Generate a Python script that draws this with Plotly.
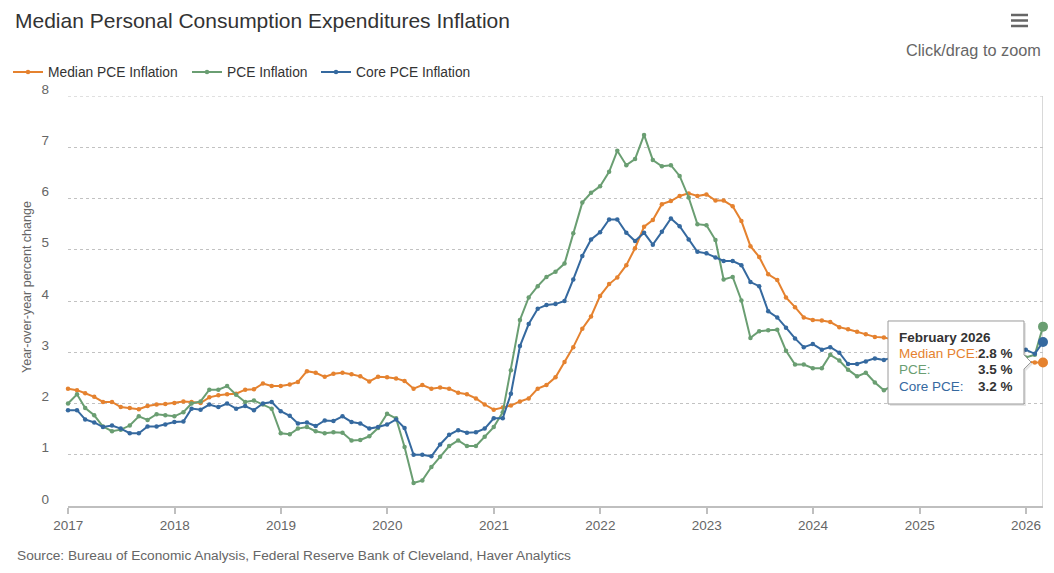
import pandas as pd
import plotly.graph_objects as go

# ---------------- data ----------------
months = pd.date_range('2016-12-01', periods=111, freq='MS') + pd.offsets.MonthEnd(0)

median_pce = [
    2.29, 2.26, 2.20, 2.13, 2.03, 2.03, 1.93, 1.91, 1.89, 1.95,
    1.98, 1.99, 2.01, 2.04, 2.03, 2.01, 2.12, 2.16, 2.18, 2.19,
    2.27, 2.28, 2.39, 2.34, 2.34, 2.37, 2.42, 2.63, 2.60, 2.52,
    2.58, 2.60, 2.57, 2.53, 2.43, 2.52, 2.51, 2.49, 2.44, 2.29,
    2.36, 2.29, 2.31, 2.29, 2.21, 2.18, 2.10, 1.98, 1.88, 1.92,
    1.96, 2.04, 2.10, 2.29, 2.36, 2.51, 2.81, 3.10, 3.46, 3.70,
    4.10, 4.33, 4.46, 4.70, 5.03, 5.45, 5.58, 5.89, 5.95, 6.05,
    6.10, 6.05, 6.08, 5.96, 5.96, 5.85, 5.56, 5.07, 4.86, 4.52,
    4.41, 4.07, 3.88, 3.68, 3.63, 3.62, 3.59, 3.49, 3.45, 3.40,
    3.35, 3.30, 3.29, 3.25, 3.20, 3.15, 3.10, 3.05, 3.00, 3.00,
    2.95, 2.95, 2.90, 2.90, 2.85, 2.85, 2.80, 2.80, 2.82, 2.80, 2.80,
]

pce = [
    2.00, 2.18, 1.91, 1.77, 1.55, 1.46, 1.49, 1.57, 1.75, 1.68,
    1.79, 1.77, 1.75, 1.83, 2.00, 2.04, 2.27, 2.27, 2.34, 2.17,
    2.03, 2.06, 1.98, 1.90, 1.42, 1.40, 1.51, 1.54, 1.46, 1.42,
    1.44, 1.43, 1.28, 1.29, 1.36, 1.52, 1.80, 1.71, 1.15, 0.45,
    0.50, 0.76, 0.96, 1.17, 1.28, 1.17, 1.17, 1.35, 1.54, 1.83,
    2.65, 3.63, 4.07, 4.29, 4.47, 4.57, 4.73, 5.32, 5.92, 6.11,
    6.24, 6.52, 6.93, 6.65, 6.77, 7.24, 6.75, 6.63, 6.65, 6.44,
    6.02, 5.50, 5.48, 5.19, 4.42, 4.47, 4.01, 3.28, 3.41, 3.43,
    3.44, 3.03, 2.76, 2.76, 2.69, 2.69, 2.95, 2.84, 2.66, 2.53,
    2.60, 2.41, 2.26, 2.35, 2.45, 2.60, 2.55, 2.40, 2.30, 2.40,
    2.60, 2.70, 2.75, 2.75, 2.80, 2.90, 2.85, 2.90, 2.90, 2.95, 3.50,
]

core_pce = [
    1.87, 1.87, 1.69, 1.63, 1.54, 1.57, 1.51, 1.42, 1.42, 1.55,
    1.55, 1.59, 1.64, 1.65, 1.90, 1.88, 1.98, 1.93, 2.00, 1.90,
    1.95, 1.87, 2.00, 2.03, 1.85, 1.76, 1.61, 1.63, 1.56, 1.67,
    1.66, 1.75, 1.64, 1.61, 1.51, 1.54, 1.59, 1.69, 1.52, 1.00,
    1.00, 0.97, 1.20, 1.39, 1.48, 1.43, 1.44, 1.51, 1.71, 1.71,
    2.19, 3.12, 3.55, 3.85, 3.92, 3.94, 4.00, 4.42, 4.88, 5.20,
    5.34, 5.59, 5.59, 5.33, 5.17, 5.33, 5.10, 5.35, 5.61, 5.46,
    5.20, 4.96, 4.93, 4.85, 4.78, 4.78, 4.70, 4.37, 4.29, 3.80,
    3.68, 3.48, 3.27, 3.10, 3.16, 3.05, 3.10, 2.99, 2.77, 2.77,
    2.82, 2.88, 2.85, 2.90, 2.95, 2.90, 2.85, 2.80, 2.75, 2.75,
    2.80, 2.85, 2.90, 2.90, 2.95, 2.90, 2.95, 3.00, 3.05, 2.97, 3.20,
]

series_names = ['Median PCE Inflation', 'PCE Inflation', 'Core PCE Inflation']
tooltip_labels = ['Median PCE:', 'PCE:', 'Core PCE:']
colors = ['#E5822F', '#6A9E72', '#35699F']
year_ticks = list(range(2017, 2027))
y_ticks = list(range(0, 9))

# ---------------- geometry helpers ----------------
W, H = 1054, 573
ML, MR, MT, MB = 68, 11, 96, 67
PW = W - ML - MR
PH = H - MT - MB


def px(x):
    return (x - ML) / PW


def py(y):
    return (H - MB - y) / PH


FONT = 'Liberation Sans, Arial, Helvetica, sans-serif'
GREY = '#666666'
DARK = '#333333'
GRID = '#c2c2c2'

fig = go.Figure()
all_series = [median_pce, pce, core_pce]
legend_ids = ['legend', 'legend2', 'legend3']
for vals, name, col, lid in zip(all_series, series_names, colors, legend_ids):
    fig.add_trace(go.Scatter(
        x=months, y=vals, name=name, mode='lines+markers',
        line=dict(color=col, width=2),
        marker=dict(color=col, size=4.5),
        legend=lid, cliponaxis=False, hoverinfo='skip'))

# highlighted (hovered) last points
for vals, col in zip(all_series, colors):
    fig.add_trace(go.Scatter(
        x=[months[-1]], y=[vals[-1]], mode='markers', showlegend=False,
        marker=dict(color=col, size=10), cliponaxis=False, hoverinfo='skip'))

shapes = []
# top gridline (plotly drops the grid line at the range edge)
shapes.append(dict(type='line', xref='paper', yref='y', x0=0, x1=1, y0=y_ticks[-1], y1=y_ticks[-1],
                   line=dict(color=GRID, width=1, dash='dot'), layer='below'))
# crosshair
shapes.append(dict(type='line', xref='x', yref='paper', x0=months[-1], x1=months[-1],
                   y0=0, y1=1, line=dict(color='#cccccc', width=1.5), layer='below'))
# hamburger icon
for yy in (15, 20.5, 26):
    shapes.append(dict(type='line', xref='paper', yref='paper', x0=px(1011), x1=px(1028),
                       y0=py(yy), y1=py(yy), line=dict(color=GREY, width=2.5)))


# tooltip box with notch
def tip_path(dx=0, dy=0):
    pts = [(888, 321), (1024, 321), (1024, 355), (1031, 362), (1024, 369), (1024, 404), (888, 404)]
    s = 'M ' + ' L '.join(f'{px(x + dx):.5f},{py(y + dy):.5f}' for x, y in pts) + ' Z'
    return s


shapes.append(dict(type='path', xref='paper', yref='paper', path=tip_path(2, 2),
                   fillcolor='rgba(0,0,0,0.10)', line=dict(width=0), layer='above'))
shapes.append(dict(type='path', xref='paper', yref='paper', path=tip_path(),
                   fillcolor='white', line=dict(color='#9a9a9a', width=1), layer='above'))

annotations = []
annotations.append(dict(text='Click/drag to zoom', xref='paper', yref='paper', x=1, y=py(50),
                        xanchor='right', yanchor='middle', showarrow=False,
                        font=dict(size=16.3, color=GREY, family=FONT)))
annotations.append(dict(text='Source: Bureau of Economic Analysis, Federal Reserve Bank of Cleveland, Haver Analytics',
                        xref='paper', yref='paper', x=px(15), y=py(555), xanchor='left', yanchor='middle',
                        showarrow=False, font=dict(size=13.7, color=GREY, family=FONT)))
annotations.append(dict(text='Year-over-year percent change', xref='paper', yref='paper',
                        x=px(27), y=py(287), xanchor='center', yanchor='middle', textangle=-90,
                        showarrow=False, font=dict(size=12.5, color=GREY, family=FONT)))
# tooltip text
annotations.append(dict(text='<b>' + months[-1].strftime('%B %Y') + '</b>', xref='paper', yref='paper',
                        x=px(897), y=py(337), xanchor='left', yanchor='middle', showarrow=False,
                        font=dict(size=13.5, color=DARK, family=FONT)))
for i, (lab, vals, col) in enumerate(zip(tooltip_labels, all_series, colors)):
    yy = 353.5 + 16.5 * i
    annotations.append(dict(text=lab, xref='paper', yref='paper', x=px(897), y=py(yy),
                            xanchor='left', yanchor='middle', showarrow=False,
                            font=dict(size=13.5, color=col, family=FONT)))
    annotations.append(dict(text=f'<b>{vals[-1]:.1f} %</b>', xref='paper', yref='paper', x=px(1015), y=py(yy),
                            xanchor='right', yanchor='middle', showarrow=False,
                            font=dict(size=13.5, color=DARK, family=FONT)))

legend_common = dict(orientation='h', yanchor='middle', y=py(72), xanchor='left',
                     bgcolor='rgba(0,0,0,0)', font=dict(size=13.8, color=DARK, family=FONT))

fig.update_layout(
    width=W, height=H,
    margin=dict(l=ML, r=MR, t=MT, b=MB, autoexpand=False),
    paper_bgcolor='white', plot_bgcolor='white',
    title=dict(text='Median Personal Consumption Expenditures Inflation',
               xref='container', yref='container', x=15 / W, y=1 - 21 / H,
               xanchor='left', yanchor='middle', font=dict(size=21, color=DARK, family=FONT)),
    legend=dict(x=px(8), **legend_common),
    legend2=dict(x=px(187), **legend_common),
    legend3=dict(x=px(316), **legend_common),
    xaxis=dict(type='date', range=[months[0], months[-1]], automargin=False,
               tickvals=[f'{y}-01-01' for y in year_ticks], ticktext=[str(y) for y in year_ticks],
               ticks='outside', ticklen=6, tickcolor='#bfbfbf', tickwidth=1.5,
               showline=True, linecolor='#bfbfbf', linewidth=2,
               showgrid=False, zeroline=False,
               tickfont=dict(size=13.5, color=GREY, family=FONT)),
    yaxis=dict(range=[0, 8], tickvals=y_ticks, showgrid=True, gridcolor=GRID, griddash='dot',
               gridwidth=1, zeroline=False, showline=False, ticks='', automargin=False,
               ticklabelstandoff=18, ticklabelshift=-7,
               tickfont=dict(size=13.5, color=GREY, family=FONT)),
    shapes=shapes, annotations=annotations,
    hovermode=False,
)

fig.write_html('out.html')
